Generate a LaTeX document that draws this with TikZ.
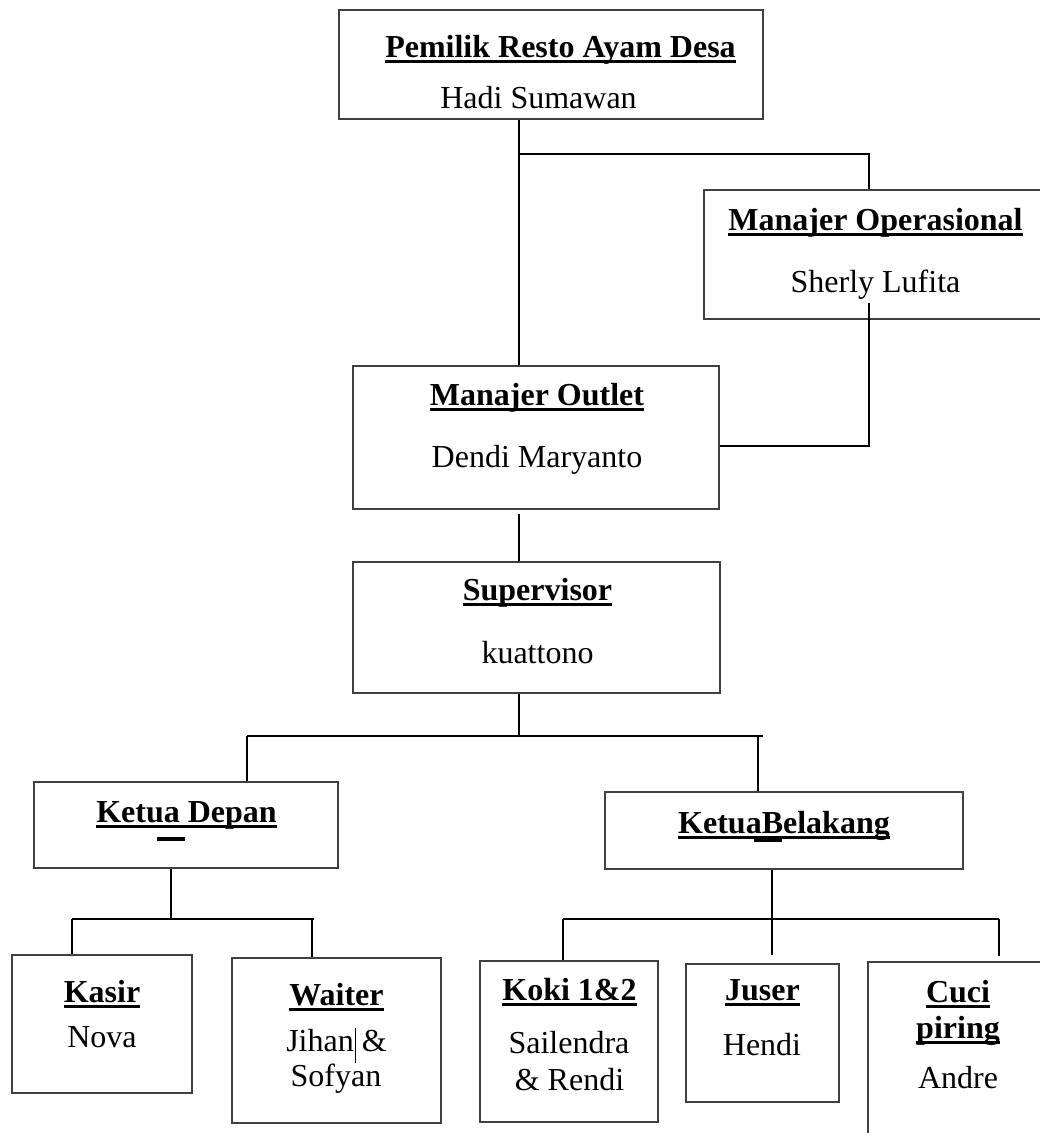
\documentclass[tikz,border=0pt]{standalone}
\usepackage{fontspec}
\setmainfont{Liberation Serif}
\usetikzlibrary{calc}
\newcommand\ulb[1]{\setbox0\hbox{\bfseries #1}\rlap{\rule[-5.5pt]{\wd0}{3pt}}\box0}
\tikzset{
  orgbox/.style={draw=black!75, line width=1.3pt, rectangle, inner sep=0pt, fill=none},
  txt/.style={inner sep=0pt, anchor=base, font=\fontsize{32}{36}\selectfont},
  conn/.style={draw=black, line width=2pt},
  dashmark/.style={fill=black, draw=none, inner sep=0pt, minimum width=28pt, minimum height=4pt}
}
\begin{document}
\begin{tikzpicture}[x=1pt, y=-1pt]
\path[use as bounding box, clip] (0,0) rectangle (1040,1133);
\fill[white] (0,0) rectangle (1040,1133);

% boxes
\node[orgbox, minimum width=424pt, minimum height=109pt] (pem) at (551,64.5) {};
\node[orgbox, minimum width=344pt, minimum height=129pt] (ops) at (876,254.5) {};
\node[orgbox, minimum width=366pt, minimum height=143pt] (out) at (536,437.5) {};
\node[orgbox, minimum width=367pt, minimum height=131pt] (sup) at (536.5,627.5) {};
\node[orgbox, minimum width=304pt, minimum height=86pt] (kd) at (186,825) {};
\node[orgbox, minimum width=358pt, minimum height=77pt] (kb) at (784,830.5) {};
\node[orgbox, minimum width=180pt, minimum height=138pt] (kas) at (102,1024) {};
\node[orgbox, minimum width=209pt, minimum height=165pt] (wai) at (336.5,1040.5) {};
\node[orgbox, minimum width=178pt, minimum height=161pt] (kok) at (569,1041.5) {};
\node[orgbox, minimum width=153pt, minimum height=138pt] (jus) at (762.5,1033) {};
\node[orgbox, minimum width=180pt, minimum height=188pt] (cuc) at (958,1056) {};

% texts
\node[txt] (pemT) at (560.5,57) {\ulb{Pemilik Resto Ayam Desa}};
\node[txt] (pemN) at (538.5,108) {Hadi Sumawan};
\node[txt] (opsT) at (875.5,230) {\ulb{Manajer Operasional}};
\node[txt] (opsN) at (875.5,292) {Sherly Lufita};
\node[txt] (outT) at (537,405) {\ulb{Manajer Outlet}};
\node[txt] (outN) at (537,467) {Dendi Maryanto};
\node[txt] (supT) at (537.5,600) {\ulb{Supervisor}};
\node[txt] (supN) at (537.5,663) {kuattono};
\node[txt] (kdT) at (186.5,822) {\ulb{Ketua Depan}};
\node[dashmark] (kdD) at (171,839) {};
\node[txt] (kbT) at (784,833) {\ulb{KetuaBelakang}};
\node[dashmark] (kbD) at (768,840) {};
\node[txt] (kasT) at (102,1002) {\ulb{Kasir}};
\node[txt] (kasN) at (102,1047) {Nova};
\node[txt] (waiT) at (336.5,1005) {\ulb{Waiter}};
\node[txt] (waiN1) at (336.5,1051) {Jihan\rlap{\hspace{1pt}\rule[-12pt]{1.2pt}{35pt}} \&};
\node[txt] (waiN2) at (336,1086) {Sofyan};
\node[txt] (kokT) at (569.5,1000) {\ulb{Koki 1\&2}};
\node[txt] (kokN1) at (569,1053) {Sailendra};
\node[txt] (kokN2) at (569.5,1090) {\& Rendi};
\node[txt] (jusT) at (762.5,1000) {\ulb{Juser}};
\node[txt] (jusN) at (762,1055) {Hendi};
\node[txt] (cucT1) at (958,1002) {\ulb{Cuci}};
\node[txt] (cucT2) at (958,1038) {\ulb{piring}};
\node[txt] (cucN) at (958,1088) {Andre};

% junction coordinates
\coordinate (j1) at (519,154);
\coordinate (j2) at (869,154);
\coordinate (j3) at (869,303);
\coordinate (j4) at (869,446);
\coordinate (j5) at (519,736);
\coordinate (jl) at (247,736);
\coordinate (jr) at (763,736);
\coordinate (jrv) at (758,736);
\coordinate (kdj) at (171,919);
\coordinate (kasj) at (72,919);
\coordinate (waij) at (314,919);
\coordinate (waiv) at (312,919);
\coordinate (kbj) at (772,919);
\coordinate (kokj) at (563,919);
\coordinate (cucj) at (999,919);

% connectors
\draw[conn] (pem.south -| j1) -- (out.north -| j1);
\draw[conn] (j1) -- (j2) -- (ops.north -| j2);
\draw[conn] (j3) -- (j4) -- (out.east |- j4);
\draw[conn] ($(out.south -| j1)+(0,4)$) -- (sup.north -| j1);
\draw[conn] (sup.south -| j1) -- (j5);
\draw[conn] (jl) -- (jr);
\draw[conn] (jl) -- (kd.north -| jl);
\draw[conn] (jrv) -- (kb.north -| jrv);
\draw[conn] (kd.south -| kdj) -- (kdj);
\draw[conn] (kasj) -- (waij);
\draw[conn] (kasj) -- (kas.north -| kasj);
\draw[conn] (waiv) -- (wai.north -| waiv);
\draw[conn] (kb.south -| kbj) -- (kbj);
\draw[conn] (kokj) -- (cucj);
\draw[conn] (kokj) -- (kok.north -| kokj);
\draw[conn] (kbj) -- ($(jus.north -| kbj)+(0,-8)$);
\draw[conn] (cucj) -- ($(cuc.north -| cucj)+(0,-5)$);
\end{tikzpicture}
\end{document}
